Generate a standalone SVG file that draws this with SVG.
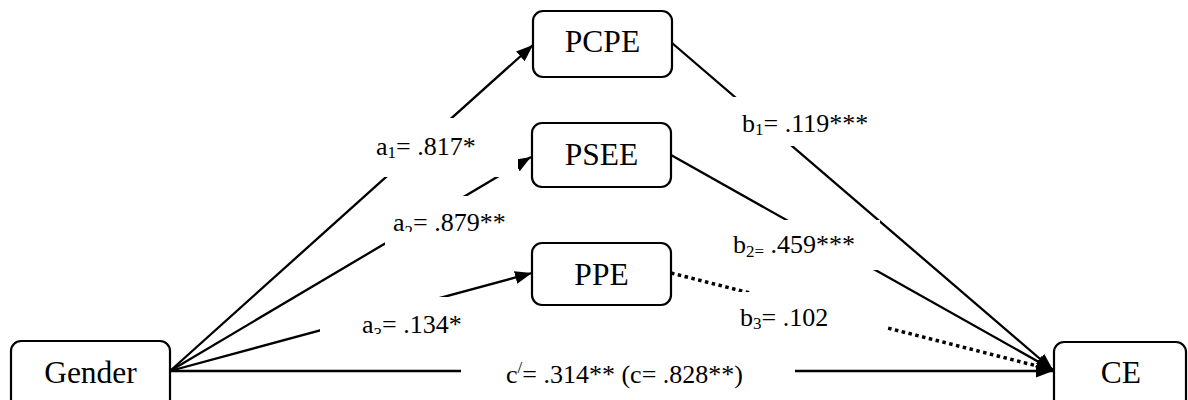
<svg xmlns="http://www.w3.org/2000/svg" width="1188" height="400" viewBox="0 0 1188 400">
<defs>
<marker id="arr" markerUnits="userSpaceOnUse" markerWidth="17" markerHeight="13" refX="17" refY="6.5" orient="auto"><path d="M0,0 L17,6.5 L0,13 Z" fill="#000"/></marker>
<clipPath id="clipA2"><rect x="380" y="190" width="140" height="42"/></clipPath>
<clipPath id="clipA3"><rect x="320" y="297" width="160" height="37"/></clipPath>
</defs>
<style>
.box{fill:#fff;stroke:#000;stroke-width:2.2}
.node{font-family:'Liberation Serif','Times New Roman','DejaVu Serif',serif;font-size:31.5px;fill:#000;text-anchor:middle}
.lbl{font-family:'Liberation Serif','Times New Roman','DejaVu Serif',serif;font-size:26px;fill:#000}
.ln{stroke:#000;stroke-width:2.3;fill:none}
.dot{stroke:#000;stroke-width:3.5;stroke-dasharray:3.5 3.5;fill:none}
.mask{fill:#fff}
</style>
<rect width="1188" height="400" fill="#fff"/>
<g id="connectors">
<line class="ln" x1="170" y1="371" x2="533" y2="45" marker-end="url(#arr)"/>
<line class="ln" x1="170" y1="371" x2="531" y2="157" marker-end="url(#arr)"/>
<line class="ln" x1="170" y1="371" x2="532" y2="273" marker-end="url(#arr)"/>
<line class="ln" x1="170" y1="371" x2="1053" y2="371" marker-end="url(#arr)"/>
<line class="ln" x1="672" y1="43" x2="1053" y2="370" marker-end="url(#arr)"/>
<line class="ln" x1="671" y1="155" x2="1053" y2="370" marker-end="url(#arr)"/>
<line class="dot" x1="671" y1="273" x2="1053" y2="370" marker-end="url(#arr)"/>
</g>
<g id="labels" font-family="Liberation Serif, Times New Roman, serif">
<rect class="mask" x="370" y="118" width="148" height="59"/>
<rect class="mask" x="385" y="196" width="130" height="54"/>
<rect class="mask" x="320" y="297" width="160" height="48"/>
<rect class="mask" x="728" y="97" width="152" height="49"/>
<rect class="mask" x="725" y="220" width="155" height="50"/>
<rect class="mask" x="735" y="292" width="152" height="53"/>
<rect class="mask" x="461" y="350" width="334" height="48"/>
<text class="lbl" x="376" y="155">a<tspan font-size="17" dy="3">1</tspan><tspan dy="-3">= .817*</tspan></text>
<g clip-path="url(#clipA2)"><text class="lbl" x="393" y="231">a<tspan font-size="17" dy="6">2</tspan><tspan dy="-6">= .879**</tspan></text></g>
<g clip-path="url(#clipA3)"><text class="lbl" x="362" y="333">a<tspan font-size="17" dy="6">3</tspan><tspan dy="-6">= .134*</tspan></text></g>
<text class="lbl" x="742" y="132">b<tspan font-size="17" dy="3">1</tspan><tspan dy="-3">= .119***</tspan></text>
<text class="lbl" x="733" y="253">b<tspan font-size="17" dy="4">2=</tspan><tspan dy="-4"> .459***</tspan></text>
<text class="lbl" x="740" y="326">b<tspan font-size="17" dy="3">3</tspan><tspan dy="-3">= .102</tspan></text>
<text class="lbl" x="506" y="383">c<tspan font-size="17" dy="-10">/</tspan><tspan dy="10">= .314** (c= .828**)</tspan></text>
</g>
<g id="gender"><rect class="box" x="11" y="341" width="159" height="72" rx="10"/><text class="node" x="90.5" y="383">Gender</text></g>
<g id="pcpe"><rect class="box" x="533" y="11" width="139" height="66" rx="10"/><text class="node" x="602.5" y="52">PCPE</text></g>
<g id="psee"><rect class="box" x="532" y="123" width="139" height="64" rx="10"/><text class="node" x="601.5" y="165">PSEE</text></g>
<g id="ppe"><rect class="box" x="532" y="243" width="139" height="62" rx="10"/><text class="node" x="601.5" y="285">PPE</text></g>
<g id="ce"><rect class="box" x="1054" y="342" width="132" height="72" rx="10"/><text class="node" x="1121" y="383">CE</text></g>
</svg>
